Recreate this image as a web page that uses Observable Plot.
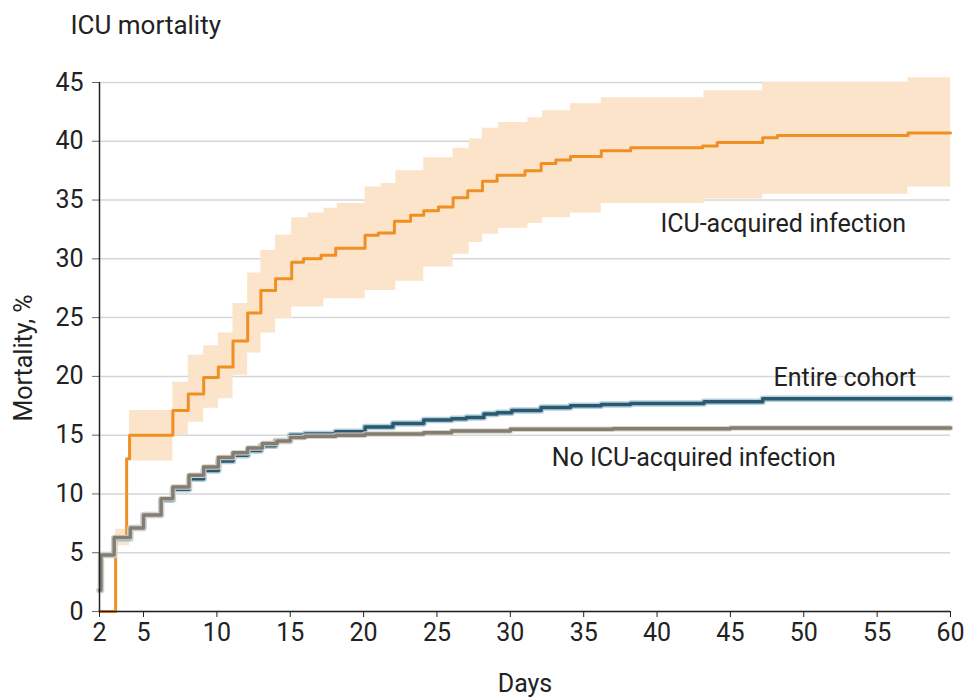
<!DOCTYPE html>
<html>
<head>
<meta charset="utf-8">
<script src="https://cdn.jsdelivr.net/npm/d3@7"></script>
<script src="https://cdn.jsdelivr.net/npm/@observablehq/plot@0.6"></script>
<style>
  html, body { margin: 0; padding: 0; background: #fff; }
  #chart { width: 968px; height: 698px; }
</style>
</head>
<body>
<div id="chart"></div>
<script>
// ---- Tick labels ----
const xTicks = [2, 5, 10, 15, 20, 25, 30, 35, 40, 45, 50, 55, 60];
const yTicks = [0, 5, 10, 15, 20, 25, 30, 35, 40, 45];

// ---- ICU-acquired infection (step curve) ----
const infDays = [2, 3.1, 3.85, 4.05, 7.0, 8.05, 9.1, 10.1, 11.1, 12.1, 13.0, 14.0, 15.1, 15.9, 17.1, 18.1, 20.1, 21.0, 22.1, 23.2, 24.1, 25.1, 26.1, 27.1, 28.1, 29.1, 31.0, 32.1, 33.1, 34.1, 36.2, 38.2, 43.1, 44.1, 47.2, 48.2, 57.1, 60];
const infVals = [0, 6.2, 13.0, 15.0, 17.1, 18.5, 19.9, 20.8, 23.0, 25.4, 27.3, 28.3, 29.7, 30.0, 30.3, 30.9, 32.0, 32.2, 33.2, 33.7, 34.1, 34.4, 35.2, 35.8, 36.6, 37.1, 37.5, 38.1, 38.4, 38.7, 39.2, 39.45, 39.6, 39.9, 40.3, 40.5, 40.7, 40.7];

// ---- ICU-acquired infection 95% CI band ----
const bandDays = [3.1, 4.05, 7.0, 8.05, 9.1, 10.1, 11.1, 12.1, 13.0, 14.0, 15.1, 16.2, 17.3, 18.2, 20.1, 21.2, 22.2, 24.1, 26.1, 27.2, 28.1, 29.2, 31.2, 32.2, 34.1, 36.2, 43.2, 47.2, 57.1, 60];
const bandLow  = [5.6, 12.8, 15.0, 16.1, 17.3, 18.1, 20.1, 22.0, 23.7, 24.9, 25.9, 25.9, 26.6, 26.6, 27.3, 27.3, 28.1, 29.3, 30.4, 31.4, 32.1, 32.6, 33.0, 33.5, 33.9, 34.7, 35.1, 35.5, 36.1, 36.1];
const bandHigh = [7.0, 17.1, 19.5, 21.8, 22.6, 23.7, 26.2, 28.8, 30.7, 32.0, 33.5, 33.9, 34.3, 34.7, 36.1, 36.4, 37.5, 38.6, 39.4, 40.2, 41.1, 41.6, 42.0, 42.6, 43.2, 43.7, 44.3, 45.0, 45.4, 45.4];

// ---- Entire cohort ----
const cohortDays = [2, 2.1, 3.0, 4.1, 5.0, 6.2, 7.0, 8.1, 9.1, 10.1, 11.1, 12.1, 13.0, 14.0, 15.0, 16.0, 18.1, 20.1, 22.0, 24.1, 26.0, 27.0, 28.2, 29.1, 30.1, 32.1, 34.1, 36.2, 38.2, 43.2, 47.2, 60];
const cohortVals = [1.8, 4.8, 6.2, 7.1, 8.2, 9.5, 10.4, 11.3, 12.0, 12.8, 13.3, 13.7, 14.1, 14.5, 15.0, 15.1, 15.3, 15.7, 16.0, 16.3, 16.4, 16.5, 16.8, 16.9, 17.1, 17.35, 17.5, 17.6, 17.7, 17.85, 18.1, 18.1];

// ---- No ICU-acquired infection ----
const noInfDays = [2, 2.1, 3.0, 4.1, 5.0, 6.2, 7.0, 8.1, 9.1, 10.1, 11.1, 12.1, 13.1, 14.1, 15.0, 16.0, 18.1, 20.1, 24.1, 26.0, 30.0, 37.0, 45.0, 60];
const noInfVals = [1.8, 4.8, 6.3, 7.1, 8.2, 9.6, 10.6, 11.6, 12.3, 13.1, 13.5, 13.9, 14.3, 14.5, 14.8, 14.9, 15.0, 15.1, 15.2, 15.35, 15.5, 15.55, 15.6, 15.6];

// ---- Series labels ----
const labelNames = ["ICU-acquired infection", "Entire cohort", "No ICU-acquired infection"];
const labelDays = [48.6, 52.8, 42.5];
const labelVals = [33.0, 19.9, 13.1];

// ---- Build tables ----
const infData = infDays.map((d, i) => ({day: d, v: infVals[i]}));
const bandData = bandDays.map((d, i) => ({day: d, low: bandLow[i], high: bandHigh[i]}));
const cohortData = cohortDays.map((d, i) => ({day: d, v: cohortVals[i]}));
const noInfData = noInfDays.map((d, i) => ({day: d, v: noInfVals[i]}));
const labelData = labelNames.map((n, i) => ({name: n, day: labelDays[i], v: labelVals[i]}));

const FS = 25;

const chart = Plot.plot({
  width: 968,
  height: 698,
  marginLeft: 99,
  marginRight: 18,
  marginTop: 82,
  marginBottom: 87,
  style: {fontFamily: "Roboto, 'Open Sans', sans-serif", fontSize: FS + "px", color: "#222", background: "#fff"},
  x: {domain: [2, 60]},
  y: {domain: [0, 45]},
  marks: [
    Plot.gridY(yTicks, {stroke: "#d6d6d6", strokeOpacity: 1, strokeWidth: 1.5}),
    Plot.areaY(bandData, {x: "day", y1: "low", y2: "high", curve: "step-after", fill: "#fbe4ca", fillOpacity: 1}),
    Plot.lineY(infData, {x: "day", y: "v", curve: "step-after", stroke: "#f08f22", strokeWidth: 3}),
    Plot.lineY(cohortData, {x: "day", y: "v", curve: "step-after", stroke: "#b3d0df", strokeWidth: 6.5}),
    Plot.lineY(cohortData, {x: "day", y: "v", curve: "step-after", stroke: "#2b5a70", strokeWidth: 3.5}),
    Plot.lineY(noInfData, {x: "day", y: "v", curve: "step-after", stroke: "#d9d3ca", strokeWidth: 5.5}),
    Plot.lineY(noInfData, {x: "day", y: "v", curve: "step-after", stroke: "#857d72", strokeWidth: 3.5}),
    Plot.axisY({ticks: yTicks, tickSize: 7, tickPadding: 9, label: null, stroke: "#666", fontSize: FS}),
    Plot.axisX({ticks: xTicks, tickSize: 6, tickPadding: 6, label: null, stroke: "#222", fontSize: FS}),
    Plot.ruleX([2], {stroke: "#222", strokeWidth: 1.5}),
    Plot.ruleY([0], {stroke: "#222", strokeWidth: 1.5}),
    Plot.text(labelData, {x: "day", y: "v", text: "name", textAnchor: "middle", lineAnchor: "middle", fontSize: FS, fill: "#222"}),
    Plot.text(["ICU mortality"], {frameAnchor: "top-left", textAnchor: "start", lineAnchor: "middle", dx: -29, dy: -57, fontSize: 26, fill: "#222"}),
    Plot.text(["Mortality, %"], {frameAnchor: "left", textAnchor: "middle", lineAnchor: "middle", rotate: -90, dx: -76, dy: 11, fontSize: FS, fill: "#222"}),
    Plot.text(["Days"], {frameAnchor: "bottom", textAnchor: "middle", lineAnchor: "middle", dy: 72, fontSize: FS, fill: "#222"})
  ]
});

document.getElementById("chart").appendChild(chart);
</script>
</body>
</html>
